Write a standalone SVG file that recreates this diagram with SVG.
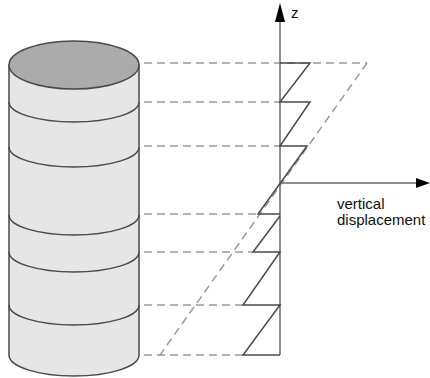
<svg xmlns="http://www.w3.org/2000/svg" width="430" height="378" viewBox="0 0 430 378">
  <style>
    .body { fill: #e6e6e6; stroke: #4a4a4a; stroke-width: 1.5; }
    .lid { fill: #ababab; stroke: #4a4a4a; stroke-width: 1.5; }
    .band { fill: none; stroke: #4a4a4a; stroke-width: 1.5; }
    .dash { fill: none; stroke: #9a9a9a; stroke-width: 1.5; stroke-dasharray: 8 5; }
    .axis { fill: none; stroke: #6a6a6a; stroke-width: 1.5; }
    .zig { fill: none; stroke: #4a4a4a; stroke-width: 1.5; stroke-linejoin: miter; }
    .head { fill: #000; }
    .lbl { font-family: "Liberation Sans", Arial, sans-serif; font-size: 15px; fill: #111; }
  </style>

  <!-- layered column -->
  <g id="column">
    <path class="body" d="M9,65 L9,355 A65,21 0 0 0 139,355 L139,65 Z"/>
    <ellipse class="lid" cx="74" cy="65" rx="65" ry="24"/>
    <path class="band" d="M9,102 A65,20 0 0 0 139,102"/>
    <path class="band" d="M9,147 A65,20 0 0 0 139,147"/>
    <path class="band" d="M9,215 A65,20 0 0 0 139,215"/>
    <path class="band" d="M9,252 A65,20 0 0 0 139,252"/>
    <path class="band" d="M9,305 A65,20 0 0 0 139,305"/>
  </g>

  <!-- projection lines and linear profile -->
  <g id="connectors">
    <line class="dash" x1="144" y1="63" x2="367" y2="63"/>
    <line class="dash" x1="144" y1="102" x2="280" y2="102"/>
    <line class="dash" x1="144" y1="146" x2="280" y2="146"/>
    <line class="dash" x1="144" y1="214" x2="258" y2="214"/>
    <line class="dash" x1="144" y1="252" x2="253" y2="252"/>
    <line class="dash" x1="144" y1="305" x2="243" y2="305"/>
    <line class="dash" x1="144" y1="355" x2="243" y2="355"/>
    <line class="dash" x1="367" y1="63" x2="160" y2="355"/>
  </g>

  <!-- axes -->
  <g id="axes">
    <line class="axis" x1="280" y1="355" x2="280" y2="18"/>
    <line class="axis" x1="280" y1="183" x2="418" y2="183"/>
    <polygon class="head" points="280,3 275,22 285,22"/>
    <polygon class="head" points="430,183 416,178 416,188"/>
    <text class="lbl" x="291" y="18">z</text>
    <text class="lbl" x="337" y="209">vertical</text>
    <text class="lbl" x="337" y="225">displacement</text>
  </g>

  <!-- stepped displacement profile -->
  <g id="profile">
    <polyline class="zig" points="280,63 310,63 280,102 310,102 280,146 307,146 258,214 280,214"/>
    <polyline class="zig" points="280,216 253,252 280,252 243,305 280,305 243,355 280,355"/>
  </g>
</svg>
